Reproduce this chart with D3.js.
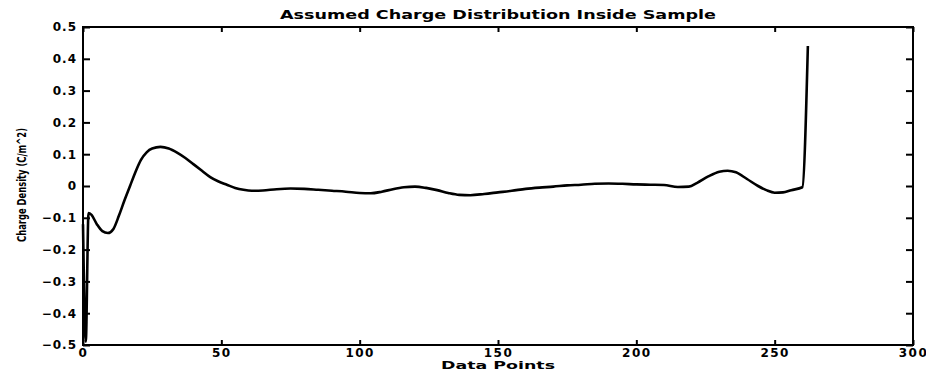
<!DOCTYPE html>
<html>
<head>
<meta charset="utf-8">
<script src="https://cdn.jsdelivr.net/npm/d3@7"></script>
<style>
  html, body { margin: 0; padding: 0; background: #fff; }
  #chart { width: 926px; height: 376px; }
  text { font-family: "DejaVu Sans", Arial, sans-serif; font-weight: bold; fill: #000; }
</style>
</head>
<body>
<div id="chart"></div>
<script>
// data
const dataPoints = [0, 1, 2, 3, 5, 7, 9, 11, 13, 15, 17, 19, 21, 23, 25, 28, 31, 34, 37, 40,
  43, 46, 49, 52, 55, 58, 61, 65, 70, 75, 80, 85, 90, 95, 100, 104, 108, 112, 116, 120,
  124, 128, 132, 136, 140, 145, 150, 155, 160, 165, 170, 175, 180, 185, 190, 195, 200, 205,
  210, 215, 219, 222, 226, 230, 233, 236, 240, 244, 247, 250, 253, 256, 260, 262];
const chargeDensity = [-0.12, -0.49, -0.085, -0.09, -0.12, -0.142, -0.148, -0.135, -0.093, -0.045,
  0.0, 0.045, 0.083, 0.106, 0.118, 0.123, 0.118, 0.105, 0.088, 0.068,
  0.048, 0.028, 0.014, 0.004, -0.006, -0.012, -0.015, -0.014, -0.01, -0.008,
  -0.009, -0.012, -0.015, -0.018, -0.022, -0.023, -0.018, -0.01, -0.004, -0.002,
  -0.006, -0.013, -0.022, -0.028, -0.029, -0.025, -0.02, -0.015, -0.009, -0.005,
  -0.002, 0.002, 0.004, 0.007, 0.008, 0.007, 0.005, 0.004,
  0.003, -0.003, -0.002, 0.01, 0.03, 0.045, 0.048, 0.043, 0.022, 0.0, -0.013, -0.021,
  -0.02, -0.013, -0.004, 0.44];
const xTicks = [0, 50, 100, 150, 200, 250, 300];
const yTicks = [-0.5, -0.4, -0.3, -0.2, -0.1, 0, 0.1, 0.2, 0.3, 0.4, 0.5];

const titleText = "Assumed Charge Distribution Inside Sample";
const xLabelText = "Data Points";
const yLabelText = "Charge Density (C/m^2)";

// размеры
const margin = { top: 27, right: 13, bottom: 31, left: 83 },
      width = 926 - margin.left - margin.right,
      height = 376 - margin.top - margin.bottom;

const svg = d3.select("#chart")
  .append("svg")
  .attr("width", width + margin.left + margin.right)
  .attr("height", height + margin.top + margin.bottom)
  .append("g")
  .attr("transform", `translate(${margin.left},${margin.top})`);

const xScale = d3.scaleLinear().domain([0, 300]).range([0, width]);
const yScale = d3.scaleLinear().domain([-0.5, 0.5]).range([height, 0]);

const yFmt = d => d === 0 ? "0" : d3.format(".1f")(d);

// axes, ticks point inward
const xAxis = d3.axisBottom(xScale).tickValues(xTicks).tickSize(-5).tickSizeOuter(0).tickPadding(3);
const xTop = d3.axisTop(xScale).tickValues(xTicks).tickSize(-5).tickSizeOuter(0).tickFormat("");
const yAxis = d3.axisLeft(yScale).tickValues(yTicks).tickSize(-7).tickSizeOuter(0).tickPadding(6).tickFormat(yFmt);
const yRight = d3.axisRight(yScale).tickValues(yTicks).tickSize(-7).tickSizeOuter(0).tickFormat("");

const gx = svg.append("g").attr("transform", `translate(0,${height})`).call(xAxis);
svg.append("g").call(xTop);
const gy = svg.append("g").call(yAxis);
svg.append("g").attr("transform", `translate(${width},0)`).call(yRight);

svg.selectAll(".domain").remove();
svg.selectAll(".tick line").attr("stroke", "#000").attr("stroke-width", 2);

gx.selectAll("text")
  .attr("font-size", 12)
  .attr("letter-spacing", "1.5px")
  .attr("dy", "0.72em");
gy.selectAll("text")
  .attr("font-size", 12)
  .attr("letter-spacing", "1px");

// frame
svg.append("rect")
  .attr("x", 0).attr("y", 0)
  .attr("width", width).attr("height", height)
  .attr("fill", "none")
  .attr("stroke", "#000")
  .attr("stroke-width", 2);

// curve
const series = dataPoints.map((x, i) => ({ x: x, y: chargeDensity[i] }));
const line = d3.line()
  .x(d => xScale(d.x))
  .y(d => yScale(d.y))
  .curve(d3.curveMonotoneX);

svg.append("path")
  .datum(series)
  .attr("d", line)
  .attr("fill", "none")
  .attr("stroke", "#000")
  .attr("stroke-width", 2.6)
  .attr("stroke-linejoin", "round");

// labels
svg.append("text")
  .attr("x", 498 - margin.left)
  .attr("y", 19 - margin.top)
  .attr("text-anchor", "middle")
  .attr("font-size", 13)
  .attr("textLength", 436)
  .attr("lengthAdjust", "spacingAndGlyphs")
  .text(titleText);

svg.append("text")
  .attr("x", xScale(150))
  .attr("y", height + 24)
  .attr("text-anchor", "middle")
  .attr("font-size", 11)
  .attr("textLength", 114)
  .attr("lengthAdjust", "spacingAndGlyphs")
  .text(xLabelText);

svg.append("text")
  .attr("transform", "rotate(-90)")
  .attr("x", -(185 - margin.top))
  .attr("y", 26 - margin.left)
  .attr("text-anchor", "middle")
  .attr("font-size", 12)
  .attr("textLength", 114)
  .attr("lengthAdjust", "spacingAndGlyphs")
  .text(yLabelText);
</script>
</body>
</html>
